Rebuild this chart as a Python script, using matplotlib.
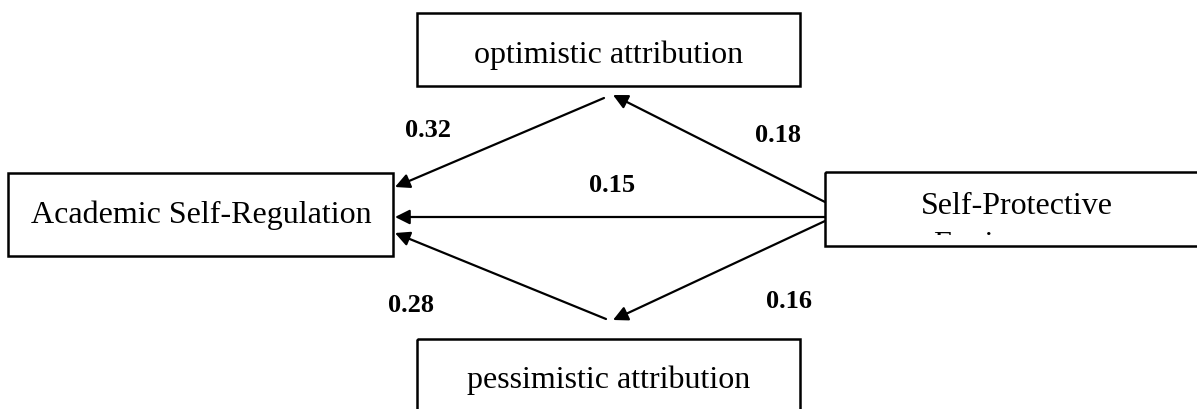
import matplotlib.pyplot as plt
from matplotlib.patches import Rectangle

# path model: nodes and standardized coefficients
nodes = ["Academic Self-Regulation", "optimistic attribution",
         "pessimistic attribution", "Self-Protective", "Environment"]
paths = ["0.32", "0.18", "0.15", "0.28", "0.16"]

plt.rcParams['font.family'] = ['Liberation Serif', 'DejaVu Serif']

fig = plt.figure(figsize=(11.97, 4.10), dpi=100)
ax = fig.add_axes([0, 0, 1, 1])
ax.set_xlim(0, 1197)
ax.set_ylim(410, 0)
ax.axis('off')

def box(x0, y0, x1, y1):
    ax.add_patch(Rectangle((x0, y0), x1 - x0, y1 - y0, fill=False,
                           edgecolor='black', linewidth=1.8, zorder=4))

box(8, 174, 393, 257)
box(417, 14, 800, 87)
box(417, 340, 800, 430)
box(825, 173, 1210, 247)

fs = 23
ax.text(201, 223, nodes[0], ha='center', va='baseline', fontsize=fs)
ax.text(609, 63, nodes[1], ha='center', va='baseline', fontsize=fs)
ax.text(609, 388, nodes[2], ha='center', va='baseline', fontsize=fs)
ax.text(1017, 214, nodes[3], ha='center', va='baseline', fontsize=fs)
ax.text(1017, 253, nodes[4], ha='center', va='baseline', fontsize=fs, zorder=2)
# the text box in the source cuts the second line off
ax.add_patch(Rectangle((826, 236), 380, 28, facecolor='white',
                       edgecolor='none', zorder=3))

def arrow(x0, y0, x1, y1):
    ax.annotate("", xy=(x1, y1), xytext=(x0, y0),
                arrowprops=dict(arrowstyle='-|>', color='black', lw=1.6,
                                mutation_scale=22, shrinkA=0, shrinkB=0))

arrow(604, 99, 395, 188)
arrow(825, 203, 613, 96)
arrow(825, 218, 395, 218)
arrow(606, 320, 395, 234)
arrow(825, 222, 613, 321)

ls = 19
ax.text(428, 137, paths[0], ha='center', va='baseline', fontsize=ls, fontweight='bold')
ax.text(778, 142, paths[1], ha='center', va='baseline', fontsize=ls, fontweight='bold')
ax.text(612, 192, paths[2], ha='center', va='baseline', fontsize=ls, fontweight='bold')
ax.text(411, 312, paths[3], ha='center', va='baseline', fontsize=ls, fontweight='bold')
ax.text(789, 308, paths[4], ha='center', va='baseline', fontsize=ls, fontweight='bold')

fig.savefig("out.png", dpi=100)
